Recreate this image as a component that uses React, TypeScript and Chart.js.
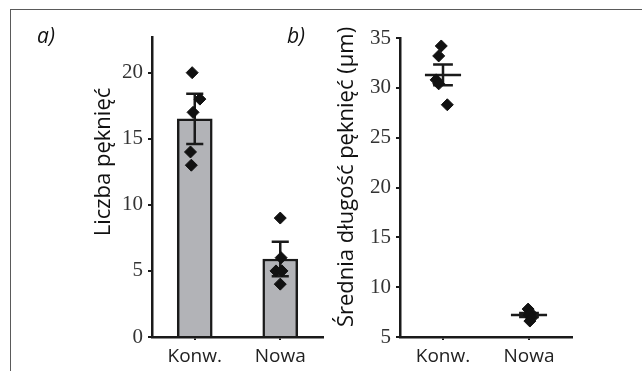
import React, { useEffect, useRef } from "react";
import { Chart, registerables } from "chart.js";

Chart.register(...registerables);

// ---------- data ----------
const categories = ["Konw.", "Nowa"];
const categoryPositions = [0, 1];

// panel a) number of cracks
const countTicks = [0, 5, 10, 15, 20];
const countMeans = [16.5, 5.9];
const countErrors = [1.9, 1.3];
const countKonw = [20, 18, 17, 14, 13];
const countKonwJitter = [-0.03, 0.06, -0.02, -0.05, -0.04];
const countNowa = [9, 6, 5, 5, 4];
const countNowaJitter = [0.0, 0.01, -0.05, 0.02, 0.0];

// panel b) mean crack length (µm)
const lengthTicks = [5, 10, 15, 20, 25, 30, 35];
const lengthMeans = [31.3, 7.2];
const lengthErrors = [1.05, 0.2];
const lengthKonw = [34.2, 33.2, 30.8, 30.4, 28.3];
const lengthKonwJitter = [-0.02, -0.05, -0.08, -0.05, 0.05];
const lengthNowa = [7.8, 7.4, 7.2, 6.9, 6.6];
const lengthNowaJitter = [-0.01, 0.02, 0.0, 0.03, 0.01];

// ---------- styling ----------
const INK = "#1a1a1a";
const BAR_FILL = "#b2b3b7";
const TICK_FONT = { family: "'Times New Roman', 'Liberation Serif', serif", size: 21 };
const LABEL_FONT = { family: "'Open Sans', 'Noto Sans', sans-serif", size: 19 };

function points(center: number, values: number[], jitter: number[]) {
  return values.map((v, i) => ({ x: center + jitter[i], y: v }));
}

function errorBarPoints(means: number[], errors: number[], capHalf: number, meanHalf: number) {
  const pts: { x: number; y: number | null }[] = [];
  categoryPositions.forEach((c, i) => {
    const hi = means[i] + errors[i];
    const lo = means[i] - errors[i];
    pts.push({ x: c - capHalf, y: hi }, { x: c + capHalf, y: hi }, { x: c, y: null });
    pts.push({ x: c, y: hi }, { x: c, y: lo }, { x: c, y: null });
    pts.push({ x: c - capHalf, y: lo }, { x: c + capHalf, y: lo }, { x: c, y: null });
    if (meanHalf > 0) {
      pts.push({ x: c - meanHalf, y: means[i] }, { x: c + meanHalf, y: means[i] }, { x: c, y: null });
    }
  });
  return pts;
}

type TextItem = { text: string; dx: number; dy: number; rot: number; font: string };

function textPlugin(id: string, items: TextItem[]) {
  return {
    id,
    afterDraw(chart: any) {
      const { ctx, chartArea } = chart;
      items.forEach((it) => {
        ctx.save();
        ctx.translate(chartArea.left + it.dx, chartArea.top + it.dy);
        ctx.rotate(it.rot);
        ctx.font = it.font;
        ctx.fillStyle = "#111";
        ctx.textAlign = "center";
        ctx.textBaseline = "middle";
        ctx.fillText(it.text, 0, 0);
        ctx.restore();
      });
    },
  };
}

function xScale() {
  return {
    type: "linear" as const,
    min: -0.5,
    max: 1.5,
    offset: false,
    afterFit: (s: any) => {
      s.height = 34;
    },
    afterBuildTicks: (s: any) => {
      s.ticks = categoryPositions.map((value) => ({ value }));
    },
    grid: { offset: false, drawOnChartArea: false, drawTicks: true, tickLength: 3, color: INK, lineWidth: 2 },
    border: { display: true, color: INK, width: 2.5 },
    ticks: {
      font: LABEL_FONT,
      color: "#222",
      padding: 5,
      maxRotation: 0,
      autoSkip: false,
      callback: (v: any) => categories[Math.round(Number(v))],
    },
  };
}

function yScale(min: number, max: number, tickValues: number[], width: number) {
  return {
    type: "linear" as const,
    min,
    max,
    afterFit: (s: any) => {
      s.width = width;
    },
    afterBuildTicks: (s: any) => {
      s.ticks = tickValues.map((value) => ({ value }));
    },
    grid: { drawOnChartArea: false, drawTicks: true, tickLength: 4, color: INK, lineWidth: 2 },
    border: { display: true, color: INK, width: 2.5 },
    ticks: { font: TICK_FONT, color: "#333", padding: 5, autoSkip: false },
  };
}

const diamondStyle = {
  pointStyle: "rectRot" as const,
  pointRadius: 6,
  pointHoverRadius: 6,
  backgroundColor: "#111",
  borderColor: "#111",
  borderWidth: 1,
};

const errorStyle = {
  borderColor: INK,
  borderWidth: 2.5,
  pointRadius: 0,
  pointHoverRadius: 0,
  spanGaps: false,
  fill: false,
  tension: 0,
};

export default function App() {
  const refA = useRef<HTMLCanvasElement | null>(null);
  const refB = useRef<HTMLCanvasElement | null>(null);

  useEffect(() => {
    const titleFont = "22px 'Open Sans', 'Noto Sans', sans-serif";
    const panelFont = "italic 21px 'Open Sans', 'Noto Sans', sans-serif";

    const chartA = new Chart(refA.current as HTMLCanvasElement, {
      type: "bar",
      data: {
        datasets: [
          {
            type: "scatter",
            data: [
              ...points(categoryPositions[0], countKonw, countKonwJitter),
              ...points(categoryPositions[1], countNowa, countNowaJitter),
            ],
            ...diamondStyle,
            order: 1,
          } as any,
          {
            type: "line",
            data: errorBarPoints(countMeans, countErrors, 0.1, 0),
            ...errorStyle,
            order: 2,
          } as any,
          {
            type: "bar",
            data: categoryPositions.map((x, i) => ({ x, y: countMeans[i] })),
            backgroundColor: BAR_FILL,
            borderColor: INK,
            borderWidth: 2.5,
            borderSkipped: "start",
            barThickness: 35,
            order: 3,
          } as any,
        ],
      },
      options: {
        animation: false,
        responsive: false,
        devicePixelRatio: 1,
        layout: { padding: { top: 37, right: 4, left: 0, bottom: 0 } },
        plugins: { legend: { display: false }, tooltip: { enabled: false } },
        scales: {
          x: xScale(),
          y: yScale(0, 22.7, countTicks, 152),
        },
      } as any,
      plugins: [
        textPlugin("textsA", [
          { text: "Liczba pęknięć", dx: -48, dy: 125, rot: -Math.PI / 2, font: titleFont },
          { text: "a)", dx: -106, dy: 0, rot: 0, font: panelFont },
        ]),
      ],
    });

    const chartB = new Chart(refB.current as HTMLCanvasElement, {
      type: "scatter",
      data: {
        datasets: [
          {
            type: "scatter",
            data: [
              ...points(categoryPositions[0], lengthKonw, lengthKonwJitter),
              ...points(categoryPositions[1], lengthNowa, lengthNowaJitter),
            ],
            ...diamondStyle,
            order: 1,
          } as any,
          {
            type: "line",
            data: errorBarPoints(lengthMeans, lengthErrors, 0.115, 0.21),
            ...errorStyle,
            order: 2,
          } as any,
        ],
      },
      options: {
        animation: false,
        responsive: false,
        devicePixelRatio: 1,
        layout: { padding: { top: 38, right: 70, left: 0, bottom: 0 } },
        plugins: { legend: { display: false }, tooltip: { enabled: false } },
        scales: {
          x: xScale(),
          y: yScale(5, 35, lengthTicks, 120),
        },
      } as any,
      plugins: [
        textPlugin("textsB", [
          { text: "Średnia długość pęknięć (µm)", dx: -53, dy: 139, rot: -Math.PI / 2, font: titleFont },
          { text: "b)", dx: -104, dy: -1, rot: 0, font: panelFont },
        ]),
      ],
    });

    return () => {
      chartA.destroy();
      chartB.destroy();
    };
  }, []);

  return (
    <div
      style={{
        position: "fixed",
        left: 0,
        top: 0,
        width: 642,
        height: 371,
        background: "#fff",
        overflow: "hidden",
      }}
    >
      <div
        style={{
          position: "absolute",
          left: 10,
          top: 9,
          width: 700,
          height: 400,
          borderTop: "1px solid #5a5a5a",
          borderLeft: "1px solid #5a5a5a",
        }}
      />
      <canvas
        ref={refA}
        width={330}
        height={371}
        style={{ position: "absolute", left: 0, top: 0, width: 330, height: 371 }}
      />
      <canvas
        ref={refB}
        width={362}
        height={371}
        style={{ position: "absolute", left: 280, top: 0, width: 362, height: 371 }}
      />
    </div>
  );
}
